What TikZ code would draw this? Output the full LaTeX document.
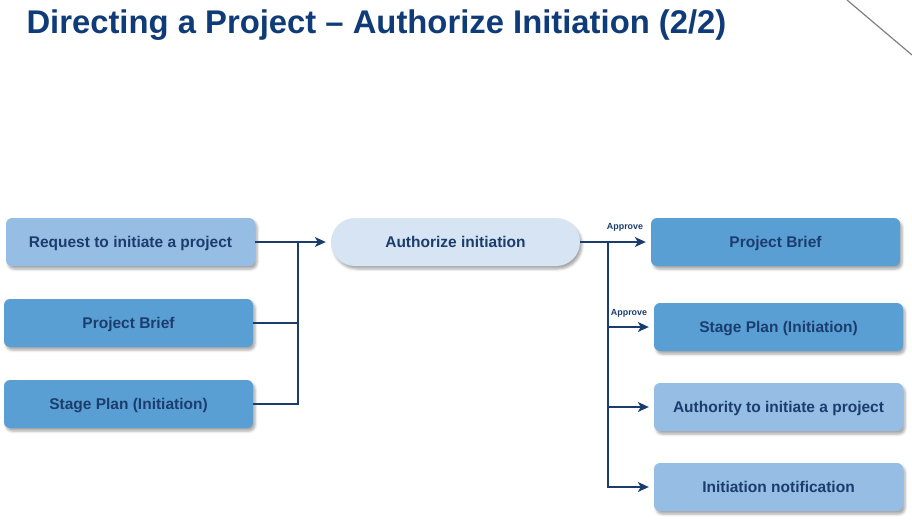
\documentclass[tikz,border=0pt]{standalone}
\usepackage{fontspec}
\setmainfont{Liberation Sans}
\usepackage{tikz}
\usetikzlibrary{arrows.meta,shadows.blur}
\definecolor{navy}{HTML}{1B3D6E}
\definecolor{titleblue}{HTML}{0F3C78}
\definecolor{paleblue}{HTML}{D6E4F3}
\definecolor{lightblue}{HTML}{96BDE3}
\definecolor{midblue}{HTML}{5A9FD4}
\tikzset{prodbox/.style={rounded corners=6pt,minimum width=249pt,minimum height=48pt,
    inner sep=0pt,text height=12pt,text depth=2pt,text=navy,font=\fontsize{15.5}{17}\selectfont\bfseries,
    blur shadow={shadow xshift=2pt,shadow yshift=-3pt,shadow blur radius=2.5pt,shadow opacity=35}}}
\tikzset{lightbox/.style={prodbox,fill=lightblue}}
\tikzset{midbox/.style={prodbox,fill=midblue}}
\tikzset{actbox/.style={prodbox,fill=paleblue,rounded corners=24pt}}
\tikzset{flowline/.style={navy,line width=1.3pt}}
\tikzset{flowarrow/.style={flowline,-{Stealth[length=11pt,width=10pt,inset=3pt]},shorten >=5pt}}

\begin{document}
\begin{tikzpicture}[x=1pt,y=-1pt]
    \useasboundingbox (0,0) rectangle (912,523);
    \draw [gray,line width=1.2pt] (847,0) -- (912,55);

    \node [anchor=base west,text=titleblue,font=\fontsize{32.8}{36}\selectfont\bfseries]
        (title) at (23,33) {Directing a Project -- Authorize Initiation (2/2)};

    % inputs
    \node [lightbox] (req)   at (130.5,242) {Request to initiate a project};
    \node [midbox]   (brief) at (128.5,323) {Project Brief};
    \node [midbox]   (plan)  at (128.5,404) {Stage Plan (Initiation)};

    % activity
    \node [actbox] (auth) at (455.5,242) {Authorize initiation};

    % outputs
    \node [midbox]   (outbrief) at (775.5,242) {Project Brief};
    \node [midbox]   (outplan)  at (778.5,327) {Stage Plan (Initiation)};
    \node [lightbox] (authority) at (778.5,407) {Authority to initiate a project};
    \node [lightbox] (notice)   at (778.5,487) {Initiation notification};

    \coordinate (injoin)  at (298,242);
    \coordinate (outjoin) at (608,242);

    \draw [flowline] (brief.east) -| (injoin);
    \draw [flowline] (plan.east) -| (injoin);
    \draw [flowarrow] (req.east) -- (auth.west);

    \draw [flowarrow] (auth.east) -- (outbrief.west);
    \draw [flowarrow] (outjoin) |- (outplan.west);
    \draw [flowarrow] (outjoin) |- (authority.west);
    \draw [flowarrow] (outjoin) |- (notice.west);

    \node [text=navy,font=\fontsize{8.9}{10}\selectfont\bfseries] (appr1) at (625,227) {Approve};
    \node [text=navy,font=\fontsize{8.9}{10}\selectfont\bfseries] (appr2) at (629,313) {Approve};
\end{tikzpicture}
\end{document}
